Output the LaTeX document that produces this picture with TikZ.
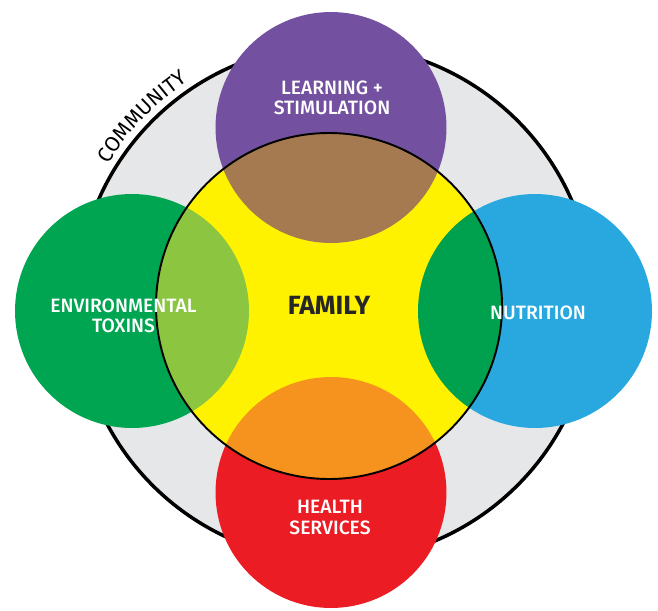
\documentclass[tikz,border=0pt]{standalone}
\usepackage{fontspec}
\setmainfont{Fira Sans}
\newfontfamily\lblfont{Fira Sans Medium}
\usetikzlibrary{decorations.text}
\definecolor{commgray}{HTML}{E6E7E8}
\definecolor{learnpurple}{HTML}{7451A0}
\definecolor{envgreen}{HTML}{00A551}
\definecolor{nutriblue}{HTML}{29A8E0}
\definecolor{healthred}{HTML}{EC1C24}
\definecolor{famyellow}{HTML}{FFF200}
\definecolor{lensbrown}{HTML}{A67A50}
\definecolor{lenslime}{HTML}{8CC540}
\definecolor{lensgreen}{HTML}{00A14E}
\definecolor{lensorange}{HTML}{F6921E}
\begin{document}
\begin{tikzpicture}[x = .02cm, y = .02cm,
	ring/.style = {circle, inner sep = 0pt, minimum size = #1},
	lbl/.style = {text = white, align = center, font = \lblfont\fontsize{11}{11.5}\selectfont}]
	\useasboundingbox (0,0) rectangle (658,610);
	\node[ring = 10.32cm, fill = commgray, draw = black, line width = 2pt] (community) at (335,307) {}; %community ring
	\path[decorate, decoration = {text along path, text align = center, text = {|\fontsize{12}{12}\selectfont|COMMUNITY}}]
		(community.center) ++(158:266) arc[start angle = 158, end angle = 114, radius = 266];
	\node[ring = 4.62cm, fill = learnpurple] (learning) at (331,482.5) {};
	\node[ring = 4.68cm, fill = envgreen] (toxins) at (132,299) {};
	\node[ring = 4.68cm, fill = nutriblue] (nutrition) at (535,299) {};
	\node[ring = 4.62cm, fill = healthred] (health) at (331,117.5) {};
	\node[ring = 6.92cm, fill = famyellow] (family) at (329,304) {};
	\begin{scope} %overlaps with the family
		\clip (family.center) circle[radius = 173];
		\fill[lensbrown] (learning.center) circle[radius = 115.5];
		\fill[lenslime] (toxins.center) circle[radius = 117];
		\fill[lensgreen] (nutrition.center) circle[radius = 117];
		\fill[lensorange] (health.center) circle[radius = 115.5];
	\end{scope}
	\draw[line width = 1.1pt] (family.center) circle[radius = 173];
	\node[lbl] (learninglbl) at (332,512) {LEARNING +\\STIMULATION};
	\node[lbl] (toxinslbl) at (123.5,294.5) {ENVIRONMENTAL\\TOXINS};
	\node[lbl] (nutritionlbl) at (538,297) {NUTRITION};
	\node[lbl] (healthlbl) at (330,92.5) {HEALTH\\SERVICES};
	\node[font = \bfseries\fontsize{15}{15}\selectfont, text = black!85] (familylbl) at (329,305) {FAMILY};
\end{tikzpicture}
\end{document}
